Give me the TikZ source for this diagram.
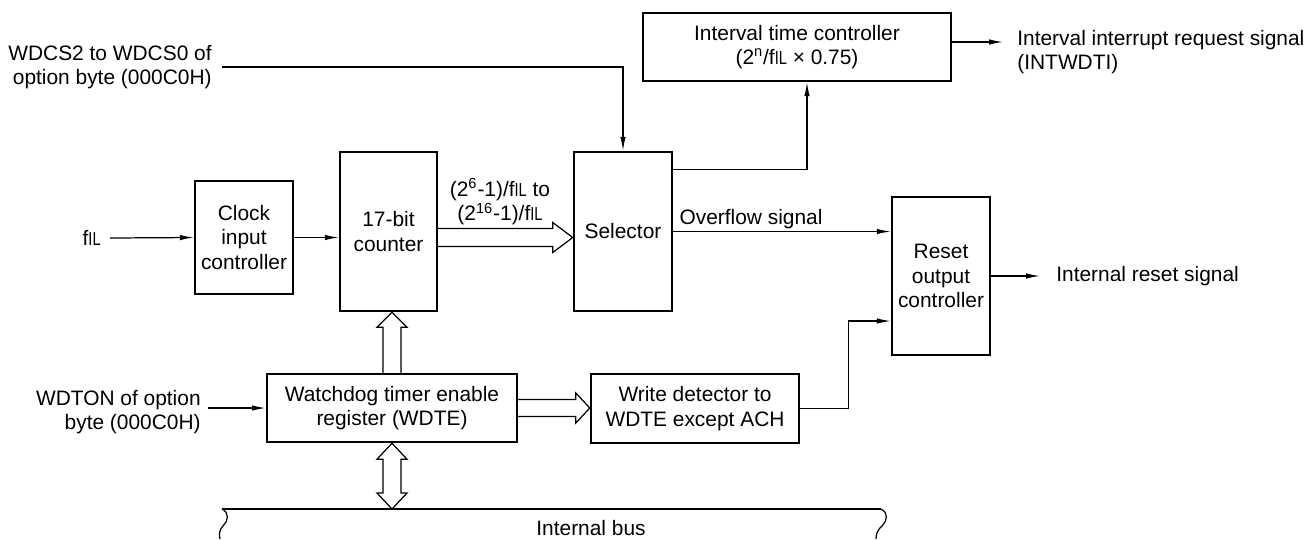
\documentclass[tikz,border=0pt]{standalone}
\usepackage{fontspec}
\usepackage{graphicx}
\setmainfont{Liberation Sans}
\usetikzlibrary{arrows.meta,calc}

\newcommand{\fil}{f\scalebox{0.7}[0.9]{IL}}

\begin{document}
\begin{tikzpicture}[x=0.02cm,y=-0.02cm,
    font=\fontsize{11.9}{13.9}\selectfont,
    blk/.style={draw,line width=1.4pt,align=center,inner sep=0pt},
    sig/.style={line width=0.7pt,-{Latex[length=0.28cm,width=0.11cm]}},
    wire/.style={line width=0.7pt},
    fat/.style={line width=0.7pt,line join=miter},
    txt/.style={inner sep=0pt,align=center}]

  \useasboundingbox (0,0) rectangle (1307,539);

  % --- blocks ---
  \node[blk,minimum width=6.16cm,minimum height=1.36cm] (itc) at (797,47)
    {Interval time controller\\(2\textsuperscript{n}/\fil{} × 0.75)};
  \node[blk,minimum width=1.96cm,minimum height=2.26cm] (clk) at (244,237.5)
    {Clock\\input\\controller};
  \node[blk,minimum width=1.94cm,minimum height=3.18cm] (cnt) at (388.5,231.5)
    {17-bit\\counter};
  \node[blk,minimum width=1.96cm,minimum height=3.18cm] (sel) at (623,231.5)
    {Selector};
  \node[blk,minimum width=1.96cm,minimum height=3.16cm] (rst) at (941,276)
    {Reset\\output\\controller};
  \node[blk,minimum width=5.0cm,minimum height=1.36cm] (wdte) at (392,408)
    {Watchdog timer enable\\register (WDTE)};
  \node[blk,minimum width=4.16cm,minimum height=1.38cm] (wrd) at (695,408.5)
    {Write detector to\\WDTE except ACH};

  % --- labels ---
  \node[txt,anchor=east,align=right,inner xsep=0.2cm] (wdcs) at (222,67)
    {WDCS2 to WDCS0 of\\option byte (000C0H)};
  \node[txt,anchor=east,inner xsep=0.18cm] (fil) at (110,238) {\fil};
  \node[txt,anchor=east,align=right,inner xsep=0.14cm] (wdton) at (208,412)
    {WDTON of option\\byte (000C0H)};
  \node[txt,anchor=west,align=left,inner xsep=0.28cm] (intr) at (1003,52)
    {Interval interrupt request signal\\(INTWDTI)};
  \node[txt,anchor=west,inner xsep=0.32cm] (rsig) at (1040,276) {Internal reset signal};
  \node[txt] (rate) at (500,202)
    {(2\textsuperscript{6}-1)/\fil{} to\\(2\textsuperscript{16}-1)/\fil};
  \node[txt,anchor=south west,inner xsep=0.12cm,inner ysep=0.05cm] (ovf) at (sel.east)
    {Overflow signal};
  \node[txt] (ibus) at (591,528) {Internal bus};

  % --- signal lines ---
  \draw[sig] (wdcs.east) -| (sel.north);
  \draw[sig] (fil.east) -- (clk.west);
  \draw[sig] (clk.east) -- (clk.east -| cnt.west);
  \draw[sig] ($(sel.north east)+(0,19)$) -| ($(itc.south)+(10,0)$);
  \draw[sig] ($(itc.east)+(0,-5)$) -- ($(intr.west)+(0,-10)$);
  \draw[sig] (sel.east) -- (sel.east -| rst.west);
  \draw[sig] (rst.east) -- (rsig.west);
  \draw[sig] (wdte.west -| wdton.east) -- (wdte.west);
  \draw[sig] (wrd.east) -- ++(48,0) |- ($(rst.west)+(0,45)$);

  % --- counter -> selector (hollow) ---
  \coordinate (cs0) at (cnt.east |- clk.east);
  \coordinate (cs1) at (sel.west |- clk.east);
  \draw[fat] ($(cs0)+(0,-9)$) -- ($(cs1)+(-20,-9)$) -- ($(cs1)+(-20,-15)$) -- (cs1)
    -- ($(cs1)+(-20,15)$) -- ($(cs1)+(-20,9)$) -- ($(cs0)+(0,9)$);

  % --- WDTE -> counter (hollow) ---
  \coordinate (wc0) at (wdte.north);
  \coordinate (wc1) at (wdte.north |- cnt.south);
  \draw[fat] ($(wc0)+(-9,0)$) -- ($(wc1)+(-9,15)$) -- ($(wc1)+(-15,15)$) -- (wc1)
    -- ($(wc1)+(15,15)$) -- ($(wc1)+(9,15)$) -- ($(wc0)+(9,0)$);

  % --- WDTE -> write detector (hollow) ---
  \coordinate (ww0) at (wdte.east);
  \coordinate (ww1) at (wrd.west |- wdte.east);
  \draw[fat] ($(ww0)+(0,-8.5)$) -- ($(ww1)+(-14,-8.5)$) -- ($(ww1)+(-14,-15)$) -- (ww1)
    -- ($(ww1)+(-14,15)$) -- ($(ww1)+(-14,8.5)$) -- ($(ww0)+(0,8.5)$);

  % --- internal bus ---
  \coordinate (busL) at (222,509);
  \coordinate (busR) at (881,509);
  \draw[wire] (busL) -- (busR);
  \draw[wire] (busL) .. controls (230,513) and (228,521) .. (223,526)
    .. controls (219,530) and (219,535) .. (220,539);
  \draw[wire] (busR) .. controls (889,513) and (887,521) .. (882,526)
    .. controls (877,530) and (876,535) .. (876,539);

  % --- WDTE <-> bus (hollow, both ways) ---
  \coordinate (wb0) at (wdte.south);
  \coordinate (wb1) at (wdte.south |- busL);
  \draw[fat] ($(wb0)+(-9,16)$) -- ($(wb0)+(-15,16)$) -- (wb0) -- ($(wb0)+(15,16)$)
    -- ($(wb0)+(9,16)$) -- ($(wb1)+(9,-16)$) -- ($(wb1)+(15,-16)$) -- (wb1)
    -- ($(wb1)+(-15,-16)$) -- ($(wb1)+(-9,-16)$) -- cycle;

\end{tikzpicture}
\end{document}
